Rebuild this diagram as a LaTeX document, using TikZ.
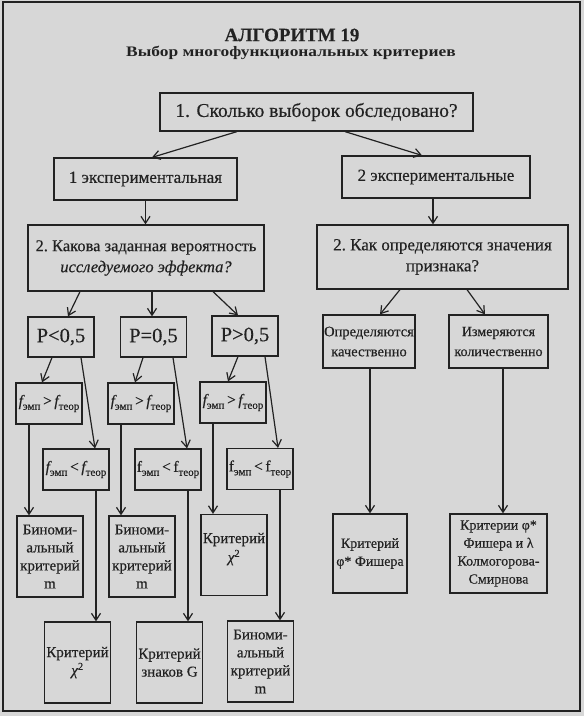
\documentclass[tikz,border=0pt]{standalone}
\usepackage{fontspec}
\setmainfont{Liberation Serif}[FakeBold=0.4]
\newfontfamily\widebold{Liberation Serif Bold}[FakeStretch=1.2]
\usetikzlibrary{arrows.meta}
\definecolor{paper}{HTML}{D7D7D7}
\definecolor{ink}{HTML}{222222}
\newcommand{\fsub}[1]{\raisebox{-0.55ex}{\fontsize{11}{11}\selectfont #1}}
\newcommand{\fgt}{{\itshape f}\fsub{эмп}\,>\,{\itshape f}\fsub{теор}}
\newcommand{\flti}{{\itshape f}\fsub{эмп}\,<\,{\itshape f}\fsub{теор}}
\newcommand{\fltu}{f\fsub{эмп}\,<\,f\fsub{теор}}
\newcommand{\chisq}{{\itshape χ}\textsuperscript{2}}
\tikzset{
  box/.style={draw=ink, line width=1.2pt, rectangle, inner sep=1pt, align=center, text=ink},
  big/.style={font=\fontsize{19.5}{23}\selectfont},
  mid/.style={font=\fontsize{17}{21}\selectfont},
  pbox/.style={box, minimum width=66pt, minimum height=40pt, font=\fontsize{20.5}{22}\selectfont},
  fbox/.style={box, minimum width=66pt, minimum height=41pt, font=\fontsize{15.5}{17}\selectfont},
  rbox/.style={box, minimum width=66pt, minimum height=81pt, font=\fontsize{15}{18}\selectfont},
  arr/.style={draw=ink, line width=1.2pt, -{Straight Barb[length=7pt,width=9pt,line width=1.2pt]}}
}
\begin{document}
\begin{tikzpicture}[x=1pt,y=-1pt]
\fill[paper] (0,0) rectangle (584,716);
\useasboundingbox (0,0) rectangle (584,716);
\draw[ink, line width=1.6pt] (3,2) rectangle (580,711);

\node[text=ink, font=\bfseries\fontsize{19}{21}\selectfont] (title) at (292,35) {АЛГОРИТМ 19};
\node[text=ink, font=\widebold\fontsize{14.5}{16}\selectfont] (sub) at (291,53) {Выбор многофункциональных критериев};

\node[box, big, minimum width=313pt, minimum height=38pt] (b1) at (316.5,112) {1. Сколько выборок обследовано?};
\node[box, mid, minimum width=183pt, minimum height=42pt] (e1) at (145.5,179) {1 экспериментальная};
\node[box, mid, minimum width=188pt, minimum height=42pt] (e2) at (436,177) {2 экспериментальные};
\node[box, font=\fontsize{16.5}{21}\selectfont, minimum width=236pt, minimum height=66pt] (q1) at (146,258) {2.~Какова заданная вероятность\\ \itshape исследуемого эффекта?};
\node[box, mid, minimum width=251pt, minimum height=64pt] (q2) at (442.5,257) {2.~Как определяются значения\\ признака?};

\node[pbox] (p1) at (61,337) {P<0,5};
\node[pbox] (p2) at (153.5,337) {P=0,5};
\node[pbox] (p3) at (245,336) {P>0,5};

\node[fbox] (g1) at (49,403.5) {\fgt};
\node[fbox] (g2) at (141,403.5) {\fgt};
\node[fbox] (g3) at (233,402.5) {\fgt};
\node[fbox] (l1) at (76,469.5) {\flti};
\node[fbox] (l2) at (168,469.5) {\fltu};
\node[fbox] (l3) at (260,469) {\fltu};

\node[rbox] (r1) at (50,556.5) {Биноми-\\альный\\критерий\\m};
\node[rbox] (r2) at (142,556.5) {Биноми-\\альный\\критерий\\m};
\node[rbox] (r3) at (234,555) {};
\node[text=ink, align=center, font=\fontsize{15}{19}\selectfont] (r3t) at ([yshift=6pt]r3.center) {Критерий\\\chisq};
\node[rbox] (s1) at (77.5,662.5) {Критерий\\\chisq};
\node[rbox] (s2) at (169.5,662.5) {Критерий\\знаков G};
\node[rbox] (s3) at (260.5,661.5) {Биноми-\\альный\\критерий\\m};

\node[box, font=\fontsize{14.5}{20}\selectfont, minimum width=92pt, minimum height=53pt] (k1) at (369,341.5) {Определяются\\качественно};
\node[box, font=\fontsize{14}{20}\selectfont, minimum width=99pt, minimum height=53pt] (k2) at (498.5,341.5) {Измеряются\\количественно};
\node[box, font=\fontsize{14}{18}\selectfont, minimum width=74pt, minimum height=79pt] (m1) at (370,553.5) {Критерий\\φ* Фишера};
\node[box, font=\fontsize{14}{18}\selectfont, minimum width=97pt, minimum height=79pt] (m2) at (498.5,553.5) {Критерии φ*\\Фишера и λ\\Колмогорова-\\Смирнова};

\draw[arr] ([xshift=-79.5pt]b1.south) -- ([xshift=6.5pt]e1.north);
\draw[arr] ([xshift=28.5pt]b1.south) -- ([xshift=-14pt]e2.north);
\draw[arr] (e1.south) -- (q1.north -| e1.south);
\draw[arr] ([xshift=-3pt]e2.south) -- ([xshift=-3pt]e2.south |- q2.north);
\draw[arr] ([xshift=-66pt]q1.south) -- ([xshift=7pt]p1.north);
\draw[arr] ([xshift=6pt]q1.south) -- ([xshift=-1.5pt]p2.north);
\draw[arr] ([xshift=67pt]q1.south) -- ([xshift=-7pt]p3.north);
\draw[arr] ([xshift=-42.5pt]q2.south) -- ([xshift=11pt]k1.north);
\draw[arr] ([xshift=24.5pt]q2.south) -- ([xshift=-13.5pt]k2.north);

\draw[arr] ([xshift=-9pt]p1.south) -- ([xshift=-7pt]g1.north);
\draw[arr] ([xshift=20pt]p1.south) -- ([xshift=19pt]l1.north);
\draw[arr] ([xshift=-10.5pt]p2.south) -- ([xshift=-6pt]g2.north);
\draw[arr] ([xshift=19.5pt]p2.south) -- ([xshift=19pt]l2.north);
\draw[arr] ([xshift=-7pt]p3.south) -- ([xshift=-5pt]g3.north);
\draw[arr] ([xshift=20pt]p3.south) -- ([xshift=18pt]l3.north);

\draw[arr] ([xshift=-20pt]g1.south) -- ([xshift=-20pt]g1.south |- r1.north);
\draw[arr] ([xshift=-20pt]g2.south) -- ([xshift=-20pt]g2.south |- r2.north);
\draw[arr] ([xshift=-20pt]g3.south) -- ([xshift=-20pt]g3.south |- r3.north);
\draw[arr] ([xshift=20pt]l1.south) -- ([xshift=20pt]l1.south |- s1.north);
\draw[arr] ([xshift=20pt]l2.south) -- ([xshift=20pt]l2.south |- s2.north);
\draw[arr] ([xshift=20pt]l3.south) -- ([xshift=20pt]l3.south |- s3.north);
\draw[arr] ([xshift=1pt]k1.south) -- ([xshift=1pt]k1.south |- m1.north);
\draw[arr] ([xshift=4.5pt]k2.south) -- ([xshift=4.5pt]k2.south |- m2.north);
\end{tikzpicture}
\end{document}
